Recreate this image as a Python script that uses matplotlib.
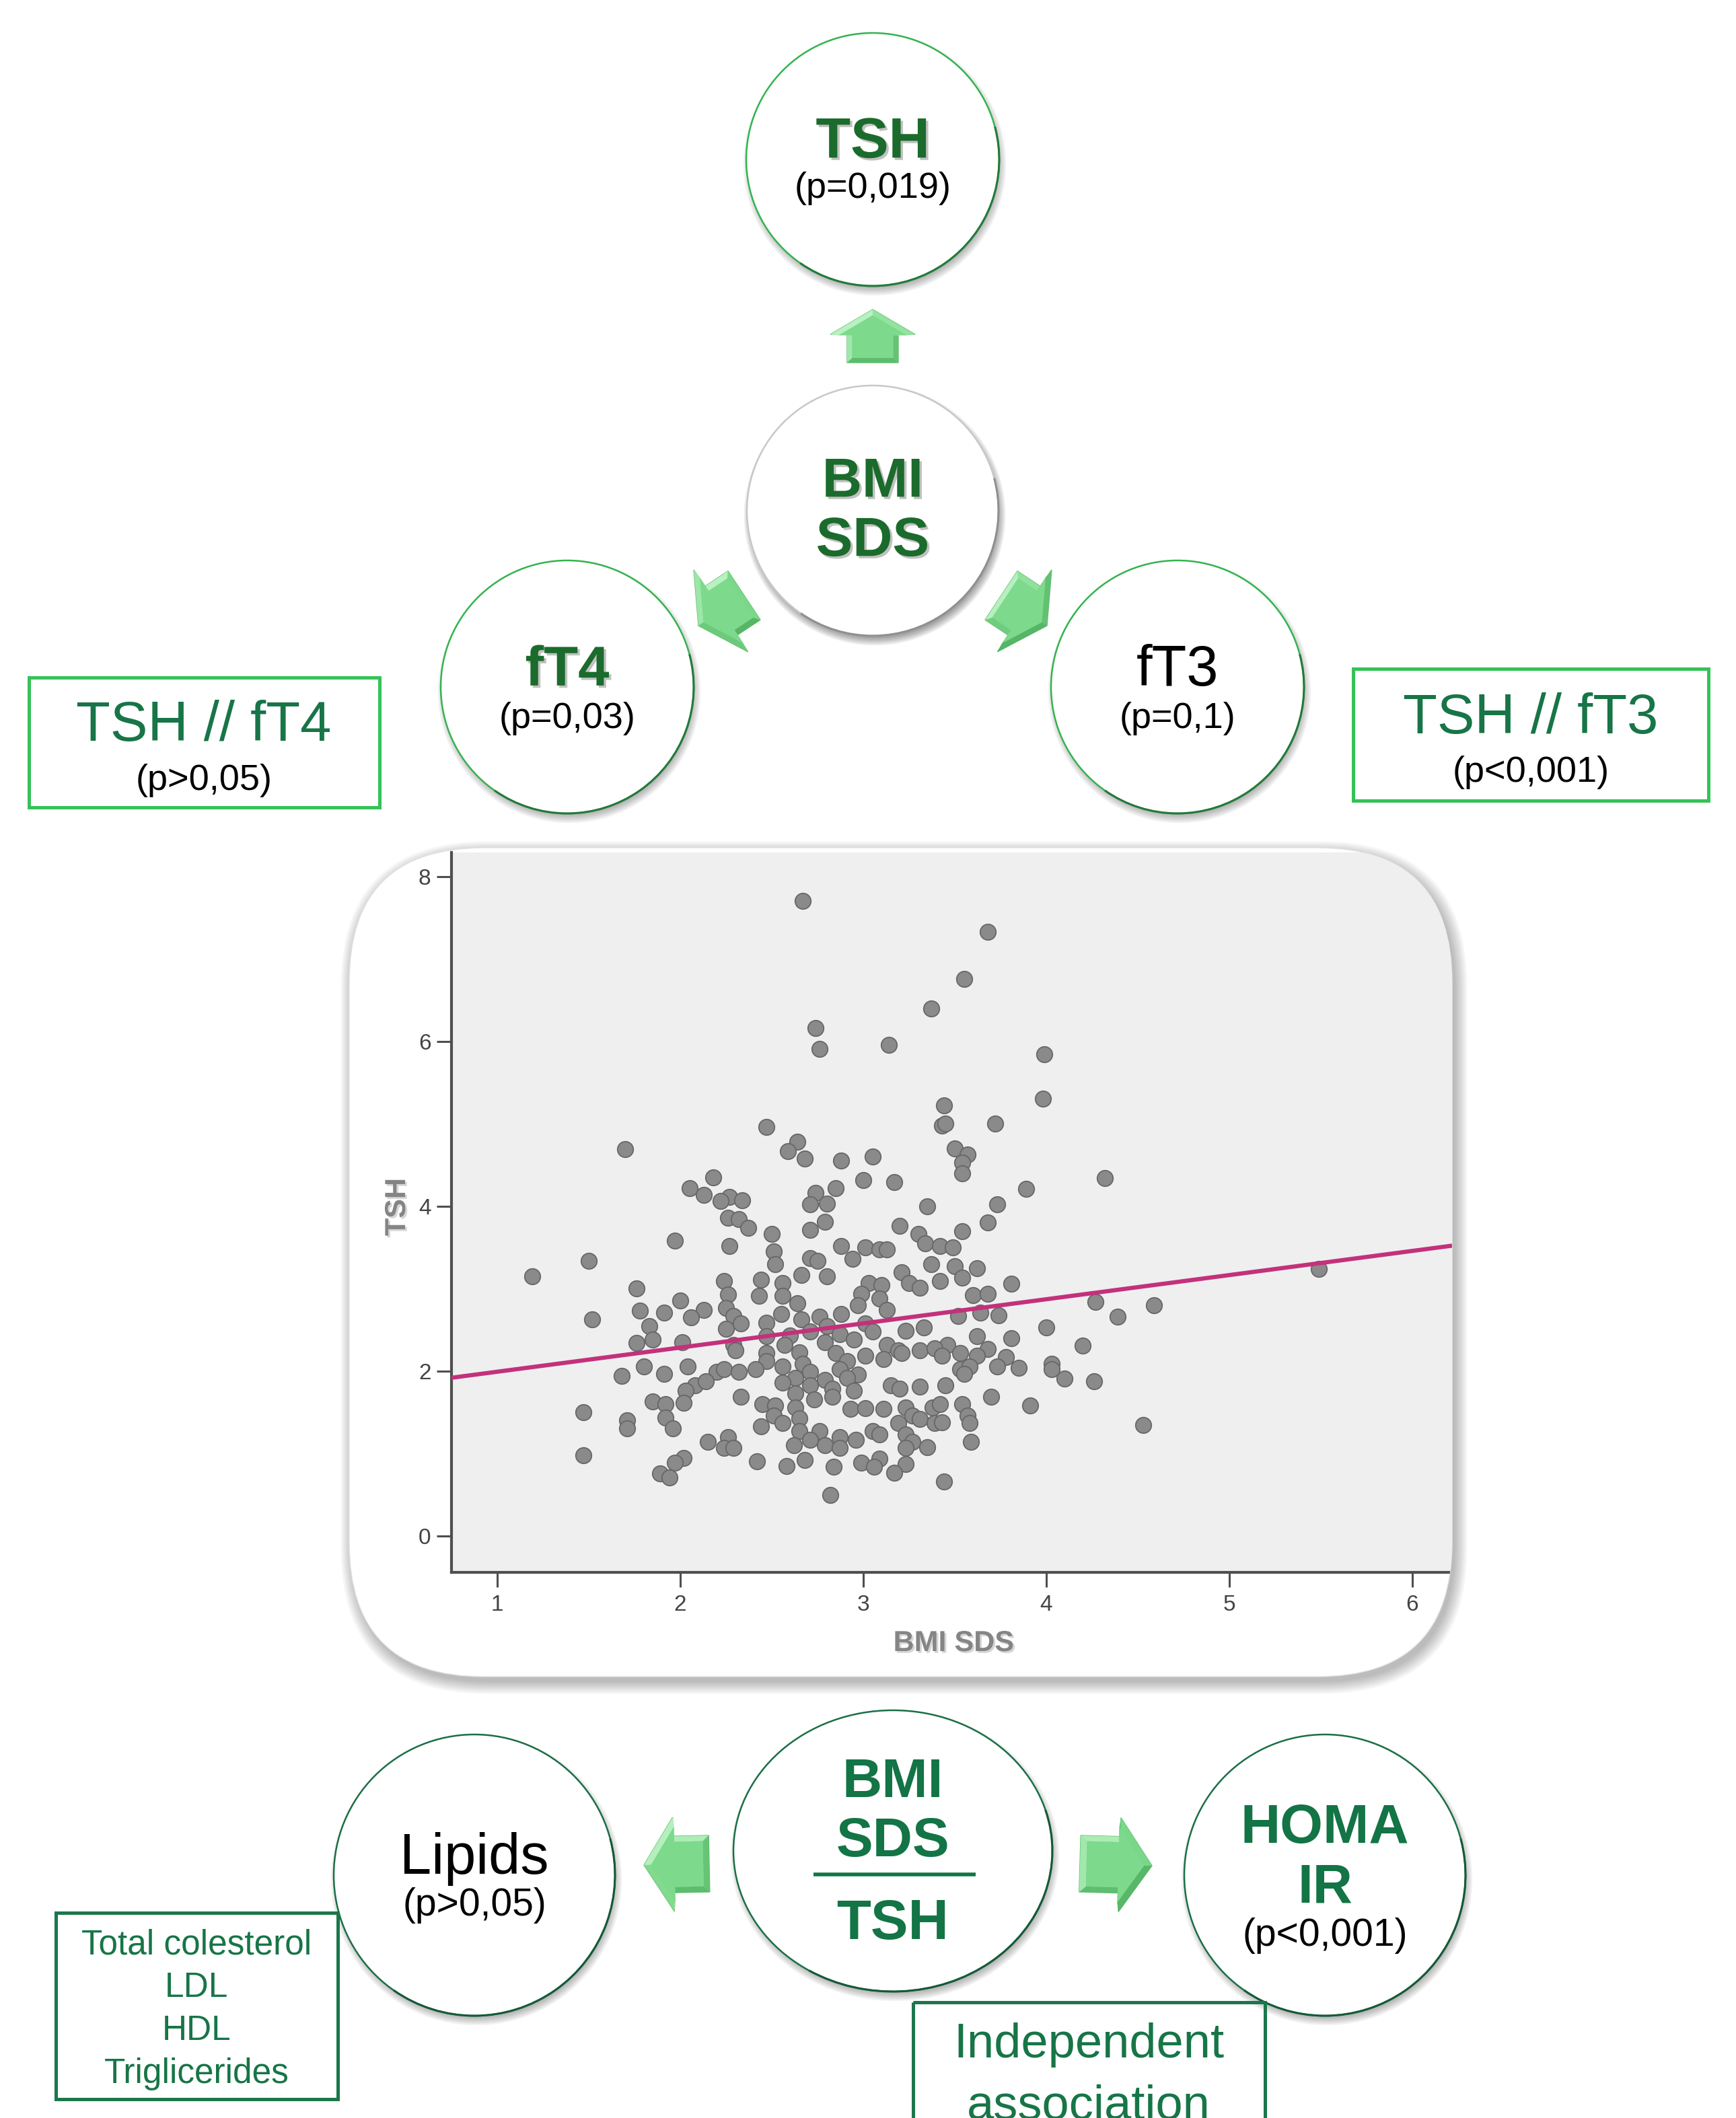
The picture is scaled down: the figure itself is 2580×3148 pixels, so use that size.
import numpy as np
import matplotlib
matplotlib.use("Agg")
import matplotlib.pyplot as plt
from matplotlib.patches import Circle, Ellipse, Polygon, FancyBboxPatch, Rectangle, Arc
import matplotlib.patheffects as pe

plt.rcParams['font.family'] = ['Liberation Sans', 'DejaVu Sans']

W, H = 2580, 3148

# scatter: BMI SDS vs TSH
bmi_sds = [2.67, 3.68, 3.55, 3.37, 2.74, 2.76, 3.14, 3.99, 3.98, 3.44, 3.43, 3.45, 3.72, 2.47,
           1.70, 2.64, 2.59, 2.68, 2.88, 3.05, 3.50, 3.57, 3.54, 3.54, 4.32, 2.18, 2.05, 2.13,
           2.27, 2.34, 2.22, 3.00, 3.17, 2.85, 2.74, 2.71, 2.80, 3.89, 3.73, 3.35, 2.26, 2.32,
           2.37, 2.79, 2.71, 3.68, 3.20, 3.54, 3.30, 1.97, 2.27, 2.50, 2.51, 2.88, 3.01, 3.09,
           3.13, 3.34, 3.42, 3.49, 2.52, 2.94, 2.71, 2.75, 3.37, 3.50, 3.62, 1.19, 1.50, 5.49,
           2.24, 2.44, 2.56, 2.66, 2.80, 3.03, 3.10, 3.21, 3.25, 3.31, 3.42, 3.54, 3.81, 1.76,
           2.26, 2.43, 2.56, 2.99, 3.09, 3.60, 3.68, 2.00, 2.64, 2.97, 4.27, 4.59, 1.52, 1.78,
           1.91, 2.13, 2.25, 2.06, 2.29, 2.55, 2.76, 2.88, 3.13, 3.64, 3.74, 4.39, 1.83, 2.25,
           2.33, 2.47, 2.66, 2.80, 3.01, 3.52, 4.00, 2.47, 2.60, 2.71, 2.87, 3.05, 3.23, 3.33,
           3.62, 3.81, 1.76, 1.85, 2.01, 2.29, 2.57, 2.79, 2.95, 3.13, 3.19, 3.46, 4.20, 2.30,
           2.47, 2.65, 2.85, 3.01, 3.31, 3.39, 3.53, 3.68, 3.62, 3.78, 2.67, 2.91, 3.11, 3.21,
           3.43, 2.47, 1.80, 2.04, 2.20, 2.24, 2.32, 2.41, 2.56, 2.71, 2.87, 2.97, 3.53, 3.58,
           3.73, 3.85, 4.03, 4.03, 1.68, 1.91, 2.63, 2.79, 2.91, 4.10, 4.26, 3.55, 2.08, 2.14,
           2.56, 2.71, 2.83, 2.95, 3.15, 3.20, 3.31, 3.45, 2.03, 2.02, 2.33, 2.63, 2.73, 2.83,
           3.70, 1.85, 1.92, 2.45, 2.52, 2.63, 2.93, 3.01, 3.11, 3.23, 3.38, 3.42, 3.54, 3.91,
           1.47, 1.92, 2.51, 2.65, 3.27, 3.31, 3.57, 1.71, 1.71, 1.96, 2.44, 2.56, 3.19, 3.39,
           3.43, 3.58, 4.53, 2.65, 2.76, 2.87, 3.05, 3.09, 3.23, 2.26, 2.15, 2.71, 2.96, 3.27,
           3.59, 2.24, 2.29, 2.62, 2.79, 2.87, 3.23, 3.35, 1.47, 2.02, 2.42, 2.68, 2.99, 3.09,
           2.58, 3.06, 3.23, 2.84, 1.97, 3.17, 1.89, 1.94, 3.44, 2.82]
tsh = [7.70, 7.33, 6.76, 6.40, 6.16, 5.91, 5.96, 5.84, 5.30, 5.22, 4.98, 5.00, 5.00, 4.96,
       4.69, 4.78, 4.67, 4.58, 4.55, 4.60, 4.70, 4.63, 4.53, 4.40, 4.34, 4.35, 4.22, 4.14,
       4.11, 4.07, 4.06, 4.32, 4.29, 4.22, 4.16, 4.02, 4.03, 4.21, 4.02, 4.00, 3.86, 3.84,
       3.74, 3.81, 3.71, 3.80, 3.76, 3.70, 3.66, 3.58, 3.52, 3.66, 3.45, 3.52, 3.50, 3.48,
       3.48, 3.55, 3.52, 3.50, 3.30, 3.36, 3.37, 3.34, 3.30, 3.27, 3.25, 3.15, 3.34, 3.24,
       3.09, 3.11, 3.07, 3.17, 3.15, 3.07, 3.04, 3.20, 3.07, 3.01, 3.09, 3.13, 3.06, 3.00,
       2.93, 2.91, 2.91, 2.94, 2.88, 2.92, 2.94, 2.86, 2.82, 2.80, 2.84, 2.80, 2.63, 2.73,
       2.71, 2.74, 2.77, 2.65, 2.67, 2.69, 2.66, 2.69, 2.74, 2.71, 2.68, 2.66, 2.55, 2.51,
       2.58, 2.59, 2.63, 2.55, 2.58, 2.67, 2.53, 2.42, 2.43, 2.48, 2.45, 2.48, 2.49, 2.53,
       2.42, 2.40, 2.34, 2.38, 2.35, 2.32, 2.32, 2.35, 2.38, 2.32, 2.25, 2.32, 2.31, 2.25,
       2.22, 2.23, 2.22, 2.19, 2.25, 2.28, 2.22, 2.27, 2.19, 2.17, 2.09, 2.12, 2.15, 2.22,
       2.19, 2.12, 2.06, 2.06, 1.99, 2.02, 1.99, 2.02, 2.06, 1.99, 2.02, 1.96, 2.02, 2.06,
       2.06, 2.04, 2.09, 2.02, 1.94, 1.97, 1.92, 1.89, 1.92, 1.91, 1.88, 1.97, 1.83, 1.88,
       1.86, 1.83, 1.79, 1.76, 1.83, 1.79, 1.81, 1.83, 1.76, 1.62, 1.69, 1.73, 1.66, 1.69,
       1.69, 1.63, 1.60, 1.60, 1.58, 1.56, 1.54, 1.55, 1.54, 1.56, 1.56, 1.60, 1.60, 1.58,
       1.50, 1.44, 1.46, 1.43, 1.46, 1.42, 1.46, 1.40, 1.31, 1.31, 1.33, 1.37, 1.37, 1.37,
       1.38, 1.37, 1.35, 1.27, 1.27, 1.20, 1.27, 1.23, 1.23, 1.20, 1.14, 1.17, 1.17, 1.14,
       1.14, 1.07, 1.07, 1.10, 1.10, 1.07, 1.07, 1.08, 0.98, 0.95, 0.91, 0.92, 0.89, 0.94,
       0.85, 0.84, 0.87, 0.84, 0.89, 0.77, 0.76, 0.71, 0.66, 0.50]
fit_intercept = 1.70
fit_slope = 0.293
x_ticks = [1, 2, 3, 4, 5, 6]
y_ticks = [0, 2, 4, 6, 8]

DARK = '#1b6b2c'
BOXTXT = '#177547'
BOTTOM = '#137446'
ARROW = '#7dd98b'

fig = plt.figure(figsize=(W / 100, H / 100), dpi=100)
bg = fig.add_axes([0, 0, 1, 1])
bg.set_xlim(0, W)
bg.set_ylim(H, 0)
bg.axis('off')


def put(x, yc, s, size, color='black', weight='normal', shadow=False, lift=0.358):
    # yc = visual centre of the glyphs, converted to a baseline
    base = yc + lift * size * 100 / 72
    fx = [pe.withSimplePatchShadow(offset=(2.5, -2.5), shadow_rgbFace='#777777', alpha=0.45)] if shadow else None
    bg.text(x, base, s, fontsize=size, color=color, fontweight=weight,
            ha='center', va='baseline', zorder=6, path_effects=fx)


def soft_shadow(cx, cy, rx, ry, strength=0.05):
    for k in range(7):
        g = -6 + k * 2.2
        bg.add_patch(Ellipse((cx + 3, cy + 7), 2 * (rx + g), 2 * (ry + g),
                             fc='black', ec='none', alpha=strength, zorder=1))


def node(cx, cy, rx, ry, edge, dark_edge, strength=0.05):
    soft_shadow(cx, cy, rx, ry, strength)
    bg.add_patch(Ellipse((cx, cy), 2 * rx, 2 * ry, fc='white', ec=edge, lw=1.8, zorder=2))
    bg.add_patch(Arc((cx, cy), 2 * rx, 2 * ry, theta1=-15, theta2=125, ec=dark_edge, lw=2.2, zorder=3))


def block_arrow(back, tip, head_len, head_w, shaft_w):
    b = np.array(back, float)
    t = np.array(tip, float)
    d = t - b
    L = np.hypot(*d)
    d /= L
    n = np.array([-d[1], d[0]])
    neck = b + d * (L - head_len)
    pts = np.array([b + n * shaft_w / 2, neck + n * shaft_w / 2, neck + n * head_w / 2, t,
                    neck - n * head_w / 2, neck - n * shaft_w / 2, b - n * shaft_w / 2])
    c = pts.mean(axis=0)
    inner = c + (pts - c) * 0.8
    light = np.array([-0.6, -0.8])
    base = np.array(matplotlib.colors.to_rgb(ARROW))
    hi = np.array(matplotlib.colors.to_rgb('#b9f1c1'))
    lo = np.array(matplotlib.colors.to_rgb('#56b566'))
    bg.add_patch(Polygon(pts, closed=True, fc=ARROW, ec='#5fbe6f', lw=1.0, zorder=4))
    for i in range(len(pts)):
        j = (i + 1) % len(pts)
        e = pts[j] - pts[i]
        nrm = np.array([e[1], -e[0]]) / (np.hypot(*e) + 1e-9)
        if np.dot(nrm, c - pts[i]) > 0:
            nrm = -nrm
        k = np.dot(nrm, light)
        col = base + (hi - base) * k if k > 0 else base + (lo - base) * (-k)
        bg.add_patch(Polygon([pts[i], pts[j], inner[j], inner[i]], closed=True,
                             fc=np.clip(col, 0, 1), ec='none', zorder=4))
    bg.add_patch(Polygon(inner, closed=True, fc=ARROW, ec='none', zorder=4))


# ---- top half ----
node(1297, 237, 188, 188, '#33b34f', '#237a3a')
put(1297, 204, 'TSH', 61, DARK, 'bold', shadow=True)
put(1297, 280, '(p=0,019)', 39, lift=0.26)

block_arrow((1297, 539), (1297, 460), 37, 126, 76)

node(1297, 759, 187, 186, '#c8c8c8', '#8f8f8f', strength=0.07)
put(1297, 709, 'BMI', 59, DARK, 'bold', shadow=True)
put(1297, 797, 'SDS', 59, DARK, 'bold', shadow=True)

block_arrow((1106, 885), (1038, 930), 40, 146, 87)
block_arrow((1488, 885), (1556, 930), 40, 146, 87)

node(843, 1021, 188, 188, '#33b34f', '#237a3a')
put(843, 989, 'fT4', 60, DARK, 'bold', shadow=True)
put(843, 1068, '(p=0,03)', 39, lift=0.26)

node(1750, 1021, 188, 188, '#33b34f', '#237a3a')
put(1750, 989, 'fT3', 61)
put(1750, 1068, '(p=0,1)', 39, lift=0.26)

bg.add_patch(Rectangle((43, 1007), 521, 193, fc='none', ec='#35c257', lw=3.6, zorder=5))
put(303, 1071, 'TSH // fT4', 60, BOXTXT)
put(303, 1160, '(p>0,05)', 39, lift=0.26)

bg.add_patch(Rectangle((2011, 994), 528, 196, fc='none', ec='#35c257', lw=3.6, zorder=5))
put(2275, 1060, 'TSH // fT3', 60, BOXTXT)
put(2275, 1148, '(p<0,001)', 39, lift=0.26)

# ---- scatter panel ----
bx, by, bw, bh = 519, 1260, 1639, 1232
for k in range(8):
    g = k * 2.5
    bg.add_patch(FancyBboxPatch((bx + 5 - g, by + 8 - g), bw + 2 * g, bh + 2 * g,
                                boxstyle='round,pad=0,rounding_size=%d' % (200 + g),
                                fc='black', ec='none', alpha=0.035, zorder=1))
panel = FancyBboxPatch((bx, by), bw, bh, boxstyle='round,pad=0,rounding_size=200',
                       fc='white', ec='#e2e2e2', lw=1.0, zorder=2)
bg.add_patch(panel)

ax = fig.add_axes([671 / W, 1 - 2337 / H, (2158 - 671) / W, (2337 - 1267) / H])
ax.set_xlim(0.75, 6.217)
ax.set_ylim(-0.44, 8.29)
ax.set_facecolor('#efefef')
ax.patch.set_clip_path(panel)
pts = ax.scatter(bmi_sds, tsh, s=285, c='#8a8a8a', edgecolors='#676767', linewidths=1.3, zorder=3)
pts.set_clip_path(panel)
xx = np.array(ax.get_xlim())
ln, = ax.plot(xx, fit_intercept + fit_slope * xx, color='#c3317b', lw=4.5, zorder=4,
              solid_capstyle='butt')
ln.set_clip_path(panel)
for s in ('top', 'right'):
    ax.spines[s].set_visible(False)
for s in ('left', 'bottom'):
    ax.spines[s].set_color('#4f4f4f')
    ax.spines[s].set_linewidth(3.0)
    ax.spines[s].set_clip_path(panel)
ax.set_xticks(x_ticks)
ax.set_yticks(y_ticks)
ax.tick_params(direction='out', length=16, width=2.2, color='#4f4f4f',
               labelsize=24, labelcolor='#444444')
ax.tick_params(axis='y', pad=6)
ax.tick_params(axis='x', pad=8)
lab_fx = [pe.withSimplePatchShadow(offset=(2, -2), shadow_rgbFace='#999999', alpha=0.4)]
ax.set_xlabel('BMI SDS', fontsize=31, fontweight='bold', color='#858585', va='center',
              path_effects=lab_fx)
ax.xaxis.set_label_coords((1417 - 671) / 1487, -(2443 - 2337) / 1070)
ax.set_ylabel('TSH', fontsize=31, fontweight='bold', color='#858585', va='center',
              path_effects=lab_fx)
ax.yaxis.set_label_coords((591 - 671) / 1487, (2337 - 1794) / 1070)

# ---- bottom half ----
node(705, 2787, 209, 209, '#1a6f45', '#145a37')
put(705, 2755, 'Lipids', 61)
put(705, 2832, '(p>0,05)', 41, lift=0.26)

bg.add_patch(Rectangle((83, 2843), 419, 277, fc='none', ec='#1b774b', lw=3.6, zorder=5))
for txt, yy in zip(['Total colesterol', 'LDL', 'HDL', 'Triglicerides'], [2886, 2950, 3014, 3078]):
    put(292, yy, txt, 37, BOXTXT)

node(1327, 2751, 237, 209, '#1a6f45', '#145a37')
put(1327, 2642, 'BMI', 59, BOTTOM, 'bold')
put(1327, 2730, 'SDS', 59, BOTTOM, 'bold')
bg.plot([1209, 1450], [2786, 2786], color=BOTTOM, lw=4, zorder=6, solid_capstyle='butt')
put(1327, 2852, 'TSH', 60, BOTTOM, 'bold')

block_arrow((1054, 2770), (957, 2772), 44, 140, 84)
block_arrow((1605, 2770), (1712, 2773), 48, 140, 84)

node(1969, 2787, 209, 209, '#1a6f45', '#145a37')
put(1969, 2710, 'HOMA', 59, BOTTOM, 'bold')
put(1969, 2798, 'IR', 59, BOTTOM, 'bold')
put(1969, 2877, '(p<0,001)', 41, lift=0.26)

# the reference crops this box (and its second line) at the bottom edge
bg.add_patch(Rectangle((1357, 2976), 523, 260, fc='none', ec='#1b774b', lw=3.6, zorder=5))
put(1618, 3032, 'Independent', 52, BOXTXT)
bg.text(1618, 3150, 'association', fontsize=52, color=BOXTXT, ha='center', va='baseline', zorder=6)

fig.savefig('out.png', dpi=100, facecolor='white')
